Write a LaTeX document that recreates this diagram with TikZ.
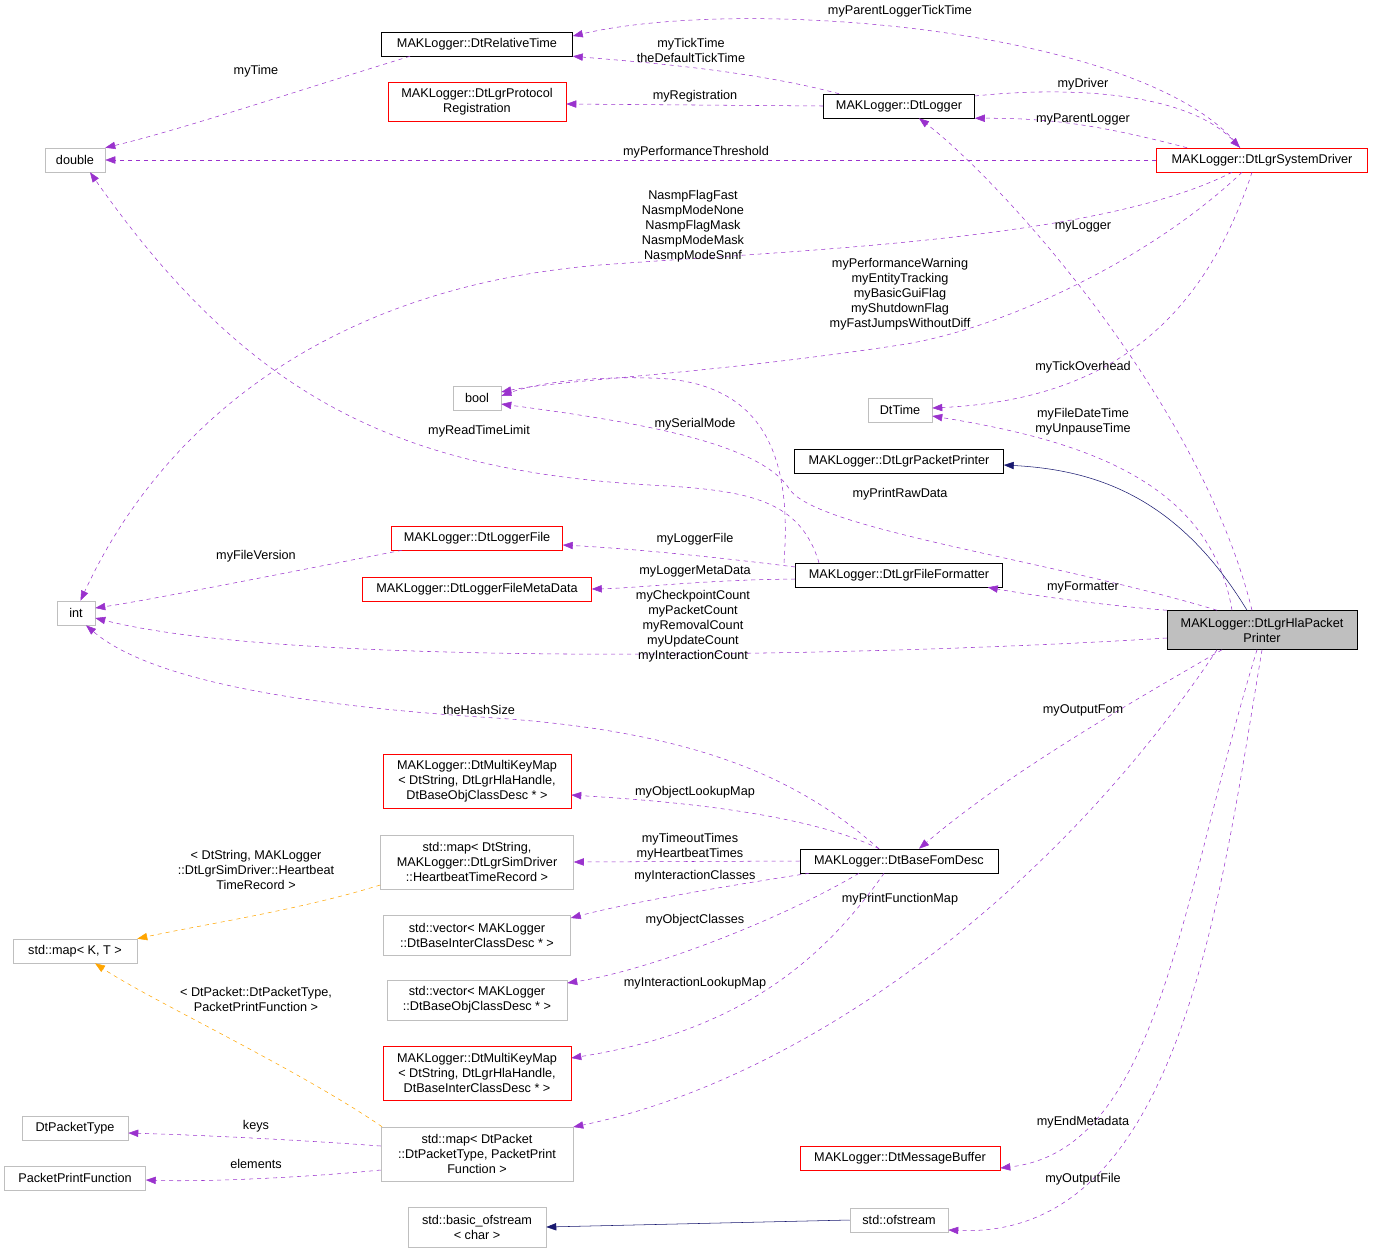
\documentclass[tikz,border=0pt]{standalone}
\usepackage{fontspec}
\setmainfont{Liberation Sans}
\usetikzlibrary{arrows.meta}
\definecolor{dep}{HTML}{9A32CD}
\definecolor{inh}{HTML}{191970}
\definecolor{tpl}{HTML}{FFA500}
\definecolor{gb}{HTML}{BFBFBF}
\begin{document}
\begin{tikzpicture}[x=0.75pt,y=-0.75pt,
  every node/.style={font=\fontsize{9.5}{11.25}\selectfont,align=center,inner sep=1pt},
  box/.style={draw=black,fill=white,minimum height=18pt,inner sep=2pt},
  rbox/.style={box,draw=red},
  gbox/.style={box,draw=gb},
  dep/.style={draw=dep,dashed,-{Triangle[length=7.5pt,width=5.5pt]},fill=none},
  inh/.style={draw=inh,-{Triangle[length=7.5pt,width=5.5pt]}},
  tpl/.style={draw=tpl,dashed,-{Triangle[length=7.5pt,width=5.5pt]}},
  lbl/.style={fill=none}]
\useasboundingbox (0,0) rectangle (1373,1253);
% nodes
\node[box,minimum width={191*0.75pt}] (relt) at (477,44) {MAKLogger::DtRelativeTime};
\node[rbox,minimum width={178*0.75pt},minimum height={39*0.75pt}] (prot) at (477,102) {MAKLogger::DtLgrProtocol\\Registration};
\node[box,minimum width={151*0.75pt}] (dlog) at (899,106) {MAKLogger::DtLogger};
\node[gbox,minimum width={60*0.75pt}] (dbl) at (75,160) {double};
\node[rbox,minimum width={211*0.75pt}] (sysd) at (1262,160) {MAKLogger::DtLgrSystemDriver};
\node[gbox,minimum width={48*0.75pt}] (bool) at (477,398) {bool};
\node[gbox,minimum width={64*0.75pt}] (dtime) at (900,410) {DtTime};
\node[box,minimum width={209*0.75pt}] (pp) at (899,461) {MAKLogger::DtLgrPacketPrinter};
\node[rbox,minimum width={171*0.75pt}] (lf) at (477,538) {MAKLogger::DtLoggerFile};
\node[rbox,minimum width={229*0.75pt}] (lfm) at (477,589) {MAKLogger::DtLoggerFileMetaData};
\node[box,minimum width={207*0.75pt}] (ff) at (899,575) {MAKLogger::DtLgrFileFormatter};
\node[gbox,minimum width={38*0.75pt}] (int) at (76,613) {int};
\node[box,fill=gb,minimum width={190*0.75pt},minimum height={39*0.75pt}] (hla) at (1262,630) {MAKLogger::DtLgrHlaPacket\\Printer};
\node[rbox,minimum width={188*0.75pt},minimum height={54*0.75pt}] (mkm1) at (477,781) {MAKLogger::DtMultiKeyMap\\< DtString, DtLgrHlaHandle,\\DtBaseObjClassDesc * >};
\node[gbox,minimum width={193*0.75pt},minimum height={54*0.75pt}] (smap) at (477,862) {std::map< DtString,\\MAKLogger::DtLgrSimDriver\\::HeartbeatTimeRecord >};
\node[box,minimum width={198*0.75pt}] (bfd) at (899,861) {MAKLogger::DtBaseFomDesc};
\node[gbox,minimum width={124*0.75pt}] (mapkt) at (75,951) {std::map< K, T >};
\node[gbox,minimum width={187*0.75pt},minimum height={40*0.75pt}] (vi) at (477,935) {std::vector< MAKLogger\\::DtBaseInterClassDesc * >};
\node[gbox,minimum width={180*0.75pt},minimum height={40*0.75pt}] (vo) at (477,1000) {std::vector< MAKLogger\\::DtBaseObjClassDesc * >};
\node[rbox,minimum width={188*0.75pt},minimum height={54*0.75pt}] (mkm2) at (477,1073) {MAKLogger::DtMultiKeyMap\\< DtString, DtLgrHlaHandle,\\DtBaseInterClassDesc * >};
\node[gbox,minimum width={106*0.75pt}] (dpt) at (75,1128) {DtPacketType};
\node[gbox,minimum width={192*0.75pt},minimum height={54*0.75pt}] (spk) at (477,1154) {std::map< DtPacket\\::DtPacketType, PacketPrint\\Function >};
\node[gbox,minimum width={141*0.75pt}] (ppf) at (75,1178) {PacketPrintFunction};
\node[rbox,minimum width={200*0.75pt}] (mbuf) at (900,1158) {MAKLogger::DtMessageBuffer};
\node[gbox,minimum width={138*0.75pt},minimum height={40*0.75pt}] (bof) at (477,1227) {std::basic\_ofstream\\< char >};
\node[gbox,minimum width={98*0.75pt}] (ofs) at (899,1220) {std::ofstream};
% edges
\draw[dep] ([shift={(-67,0)}]relt.south) .. controls (300,90) and (180,130) .. (dbl.north east);
\draw[dep] ([shift={(-22,0)}]sysd.north) .. controls (1150,30) and (750,-5) .. ([shift={(0,-8)}]relt.east);
\draw[dep] ([shift={(-60,0)}]dlog.north) .. controls (750,70) and (640,62) .. (relt.south east);
\draw[dep] (dlog.west) -- ([shift={(0,2)}]prot.east);
\draw[dep] ([shift={(0,-10)}]dlog.east) .. controls (1080,85) and (1190,95) .. ([shift={(-22,0)}]sysd.north);
\draw[dep] ([shift={(-75,0)}]sysd.north) .. controls (1100,125) and (1050,118) .. (dlog.south east);
\draw[dep] (sysd.west) -- (dbl.east);
\draw[dep] ([shift={(-30,0)}]sysd.south) .. controls (1100,240) and (800,250) .. (600,265) .. controls (300,290) and (150,450) .. (int.70);
\draw[dep] ([shift={(-20,0)}]sysd.south) .. controls (1150,260) and (1000,330) .. (900,345) .. controls (700,375) and (560,380) .. ([shift={(0,-6)}]bool.east);
\draw[dep] ([shift={(-10,0)}]sysd.south) .. controls (1200,330) and (1100,400) .. ([shift={(0,-2)}]dtime.east);
\draw[dep] ([shift={(-30,0)}]hla.north) .. controls (1210,480) and (1080,440) .. ([shift={(0,6)}]dtime.east);
\draw[dep] ([shift={(-10,0)}]hla.north) .. controls (1200,400) and (1000,180) .. ([shift={(20,0)}]dlog.south);
\draw[inh] ([shift={(-15,0)}]hla.north) .. controls (1180,500) and (1100,470) .. ([shift={(0,4)}]pp.east);
\draw[dep] ([shift={(-45,0)}]hla.north) .. controls (1050,560) and (820,530) .. (790,490) .. controls (760,440) and (620,420) .. ([shift={(0,6)}]bool.east);
\draw[dep] ([shift={(-115,0)}]ff.north) .. controls (790,480) and (780,380) .. (650,378) .. controls (580,376) and (530,385) .. ([shift={(0,-2)}]bool.east);
\draw[dep] ([shift={(-80,0)}]ff.north) .. controls (800,500) and (750,490) .. (650,485) .. controls (400,470) and (250,400) .. ([shift={(15,0)}]dbl.south);
\draw[dep] ([shift={(0,-8)}]ff.west) .. controls (700,555) and (620,548) .. ([shift={(0,7)}]lf.east);
\draw[dep] ([shift={(0,4)}]ff.west) .. controls (700,580) and (640,588) .. (lfm.east);
\draw[dep] ([shift={(-75,0)}]lf.south) .. controls (300,570) and (150,600) .. ([shift={(0,-5)}]int.east);
\draw[dep] (hla.north west) .. controls (1100,605) and (1030,595) .. ([shift={(-15,0)}]ff.south east);
\draw[dep] ([shift={(0,8)}]hla.west) .. controls (900,655) and (300,670) .. ([shift={(0,5)}]int.east);
\draw[dep] ([shift={(-20,0)}]bfd.north) .. controls (800,780) and (700,730) .. (480,717) .. controls (300,705) and (150,680) .. ([shift={(10,0)}]int.south);
\draw[dep] ([shift={(-40,0)}]hla.south) .. controls (1100,720) and (1000,780) .. ([shift={(20,0)}]bfd.north);
\draw[dep] ([shift={(-20,0)}]bfd.north) .. controls (800,810) and (650,800) .. ([shift={(0,14)}]mkm1.east);
\draw[dep] (bfd.west) -- (smap.east);
\draw[dep] ([shift={(-90,0)}]bfd.south) .. controls (700,890) and (620,905) .. ([shift={(0,-17)}]vi.east);
\draw[dep] ([shift={(-40,0)}]bfd.south) .. controls (780,920) and (650,970) .. ([shift={(0,-17)}]vo.east);
\draw[dep] ([shift={(-15,0)}]bfd.south) .. controls (830,950) and (750,1030) .. ([shift={(0,-15)}]mkm2.east);
\draw[dep] ([shift={(-45,0)}]hla.south) .. controls (1050,900) and (800,1080) .. ([shift={(0,-27)}]spk.east);
\draw[tpl] ([shift={(0,23)}]smap.west) .. controls (300,910) and (200,925) .. (mapkt.north east);
\draw[tpl] ([shift={(-95,0)}]spk.north) .. controls (300,1070) and (150,1000) .. ([shift={(20,0)}]mapkt.south);
\draw[dep] ([shift={(0,-8)}]spk.west) .. controls (300,1140) and (200,1135) .. ([shift={(0,5)}]dpt.east);
\draw[dep] ([shift={(0,16)}]spk.west) .. controls (300,1178) and (200,1182) .. ([shift={(0,2)}]ppf.east);
\draw[dep] ([shift={(-5,0)}]hla.south) .. controls (1180,900) and (1160,1150) .. ([shift={(0,10)}]mbuf.east);
\draw[dep] (hla.south) .. controls (1220,900) and (1180,1240) .. ([shift={(0,10)}]ofs.east);
\draw[inh] (ofs.west) -- (bof.east);
% labels
\node[lbl] (l1) at (256,71) {myTime};
\node[lbl] (l2) at (900,11) {myParentLoggerTickTime};
\node[lbl] (l3) at (691,50) {myTickTime\\theDefaultTickTime};
\node[lbl] (l4) at (695,96) {myRegistration};
\node[lbl] (l5) at (1083,84) {myDriver};
\node[lbl] (l6) at (1083,119) {myParentLogger};
\node[lbl] (l7) at (696,152) {myPerformanceThreshold};
\node[lbl] (l8) at (693,226) {NasmpFlagFast\\NasmpModeNone\\NasmpFlagMask\\NasmpModeMask\\NasmpModeSnnf};
\node[lbl] (l9) at (1083,226) {myLogger};
\node[lbl] (l10) at (900,294) {myPerformanceWarning\\myEntityTracking\\myBasicGuiFlag\\myShutdownFlag\\myFastJumpsWithoutDiff};
\node[lbl] (l11) at (1083,367) {myTickOverhead};
\node[lbl] (l12) at (1083,422) {myFileDateTime\\myUnpauseTime};
\node[lbl] (l13) at (695,424) {mySerialMode};
\node[lbl] (l14) at (479,431) {myReadTimeLimit};
\node[lbl] (l15) at (900,494) {myPrintRawData};
\node[lbl] (l16) at (695,539) {myLoggerFile};
\node[lbl] (l17) at (256,556) {myFileVersion};
\node[lbl] (l18) at (695,571) {myLoggerMetaData};
\node[lbl] (l19) at (1083,587) {myFormatter};
\node[lbl] (l20) at (693,626) {myCheckpointCount\\myPacketCount\\myRemovalCount\\myUpdateCount\\myInteractionCount};
\node[lbl] (l21) at (479,710) {theHashSize};
\node[lbl] (l22) at (1083,710) {myOutputFom};
\node[lbl] (l23) at (695,792) {myObjectLookupMap};
\node[lbl] (l24) at (690,847) {myTimeoutTimes\\myHeartbeatTimes};
\node[lbl] (l25) at (695,876) {myInteractionClasses};
\node[lbl] (l26) at (256,870) {< DtString, MAKLogger\\::DtLgrSimDriver::Heartbeat\\TimeRecord >};
\node[lbl] (l27) at (900,899) {myPrintFunctionMap};
\node[lbl] (l28) at (695,920) {myObjectClasses};
\node[lbl] (l29) at (695,983) {myInteractionLookupMap};
\node[lbl] (l30) at (256,999) {< DtPacket::DtPacketType,\\PacketPrintFunction >};
\node[lbl] (l31) at (1083,1122) {myEndMetadata};
\node[lbl] (l32) at (256,1126) {keys};
\node[lbl] (l33) at (256,1164) {elements};
\node[lbl] (l34) at (1083,1179) {myOutputFile};
\end{tikzpicture}
\end{document}
